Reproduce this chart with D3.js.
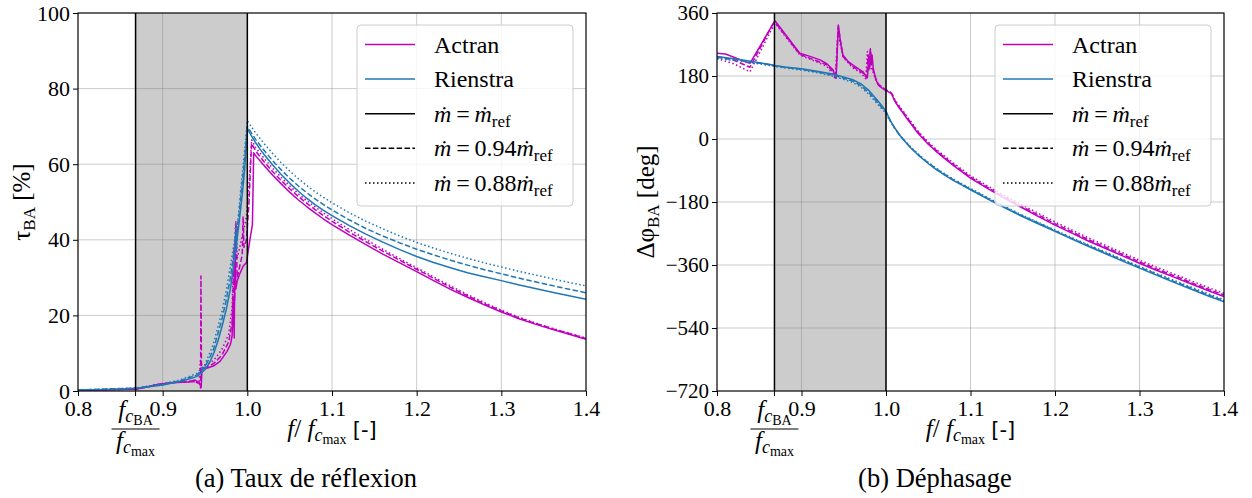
<!DOCTYPE html>
<html><head><meta charset="utf-8">
<script src="https://cdnjs.cloudflare.com/ajax/libs/d3/7.8.5/d3.min.js"></script>
<style>
body{margin:0;background:#fff}
svg text{font-family:"Liberation Serif","Times New Roman",serif;fill:#000}
</style>
</head><body>
<svg id="c" width="1252" height="498"></svg>
<script>
// ---------- axes / labels ----------
const xTicks = [0.8, 0.9, 1.0, 1.1, 1.2, 1.3, 1.4];
const xTickLabels = ["0.8", "0.9", "1.0", "1.1", "1.2", "1.3", "1.4"];
const fcRatio = 0.868;           // f_cBA / f_cmax
const fcMaxRatio = 1.0;
const tauTicks = [0, 20, 40, 60, 80, 100];
const tauTickLabels = ["0", "20", "40", "60", "80", "100"];
const phaseTicks = [-720, -540, -360, -180, 0, 180, 360];
const phaseTickLabels = ["\u2212720", "\u2212540", "\u2212360", "\u2212180", "0", "180", "360"];
const seriesNames = ["Actran", "Rienstra"];
const flowLabels = ["", "0.94", "0.88"];
const captions = ["(a) Taux de r\u00e9flexion", "(b) D\u00e9phasage"];

// ---------- data: reflection rate tau_BA [%] ----------
const tauActranRef = [[0.80,0.2],[0.84,0.3],[0.868,0.45],[0.88,1.0],[0.895,1.8],[0.91,2.2],[0.93,2.4],[0.938,2.9],[0.943,2.3],[0.9455,1.0],[0.9465,6.2],[0.95,5.9],[0.96,6.6],[0.968,7.9],[0.976,10.5],[0.98,12.3],[0.982,14.5],[0.9835,25],[0.9845,14],[0.9855,40],[0.9865,27],[0.988,29],[0.991,31],[0.995,33],[0.999,34],[1.003,40],[1.006,44],[1.0075,63],[1.01,62.2],[1.02,59.6],[1.03,57.1],[1.04,54.8],[1.05,52.6],[1.06,50.6],[1.07,48.8],[1.08,47.1],[1.09,45.5],[1.1,44.0],[1.12,41.3],[1.14,38.7],[1.16,36.2],[1.18,33.9],[1.2,31.6],[1.22,29.2],[1.24,26.9],[1.26,24.8],[1.28,22.8],[1.3,20.9],[1.32,19.2],[1.34,17.7],[1.36,16.3],[1.38,15.0],[1.4,13.7]];
const tauActran094 = [[0.80,0.2],[0.868,0.5],[0.89,1.5],[0.91,2.2],[0.935,2.5],[0.943,2.2],[0.9448,0.8],[0.9452,30.4],[0.9458,6.5],[0.95,6.2],[0.96,7.2],[0.97,9.5],[0.978,13],[0.982,18],[0.984,33],[0.985,24],[0.9865,44],[0.988,30],[0.991,33],[0.994,36],[0.995,46],[0.996,38],[0.999,40],[1.002,50],[1.005,65.5],[1.01,63.4],[1.02,60.6],[1.03,58.0],[1.04,55.7],[1.05,53.5],[1.06,51.5],[1.07,49.7],[1.08,48.0],[1.09,46.4],[1.1,44.9],[1.12,42.1],[1.14,39.5],[1.16,37.0],[1.18,34.6],[1.2,32.2],[1.22,29.8],[1.24,27.4],[1.26,25.2],[1.28,23.1],[1.3,21.2],[1.32,19.4],[1.34,17.9],[1.36,16.5],[1.38,15.2],[1.4,13.9]];
const tauActran088 = [[0.80,0.2],[0.868,0.5],[0.89,1.6],[0.91,2.3],[0.935,2.6],[0.943,2.0],[0.9445,8],[0.946,7],[0.95,6.8],[0.96,8],[0.97,11],[0.978,15],[0.982,22],[0.984,38],[0.985,28],[0.9865,45],[0.988,35],[0.991,38],[0.995,42],[0.999,46],[1.003,58],[1.005,66.5],[1.01,64.3],[1.02,61.5],[1.03,58.9],[1.04,56.5],[1.05,54.3],[1.06,52.2],[1.07,50.4],[1.08,48.7],[1.09,47.1],[1.1,45.6],[1.12,42.8],[1.14,40.1],[1.16,37.5],[1.18,35.0],[1.2,32.6],[1.22,30.2],[1.24,27.8],[1.26,25.5],[1.28,23.4],[1.3,21.4],[1.32,19.6],[1.34,18.0],[1.36,16.6],[1.38,15.3],[1.4,14.0]];
const tauRienstraRef = [[0.80,0.25],[0.82,0.35],[0.84,0.45],[0.86,0.6],[0.868,0.75],[0.88,1.0],[0.9,1.6],[0.92,2.5],[0.93,3.1],[0.94,3.8],[0.945,4.6],[0.95,5.7],[0.955,7.3],[0.96,9.8],[0.965,13],[0.97,17],[0.975,21.5],[0.98,27],[0.985,35],[0.99,44],[0.994,52],[0.997,59],[1.0,69.5],[1.005,67.4],[1.01,65.6],[1.015,64.0],[1.02,62.5],[1.03,59.8],[1.04,57.3],[1.05,55.0],[1.06,52.9],[1.07,51.0],[1.08,49.3],[1.09,47.8],[1.1,46.4],[1.12,43.8],[1.14,41.5],[1.16,39.4],[1.18,37.4],[1.2,35.6],[1.22,34.0],[1.24,32.6],[1.26,31.3],[1.28,30.2],[1.3,29.2],[1.32,28.1],[1.34,27.1],[1.36,26.1],[1.38,25.2],[1.4,24.3]];
const tauRienstra094 = [[0.80,0.25],[0.868,0.75],[0.9,1.7],[0.92,2.7],[0.94,4.2],[0.95,6.3],[0.96,11],[0.97,19],[0.975,24],[0.98,30],[0.985,38],[0.986,42],[0.987,37],[0.989,45],[0.99,46],[0.993,53],[0.997,62],[1.0,70],[1.005,68.2],[1.01,66.5],[1.015,65.0],[1.02,63.6],[1.03,60.9],[1.04,58.5],[1.05,56.3],[1.06,54.3],[1.07,52.5],[1.08,50.8],[1.09,49.3],[1.1,47.9],[1.12,45.3],[1.14,43.0],[1.16,41.0],[1.18,39.2],[1.2,37.5],[1.22,36.0],[1.24,34.6],[1.26,33.3],[1.28,32.1],[1.3,31.0],[1.32,29.9],[1.34,28.9],[1.36,27.9],[1.38,26.9],[1.4,26.0]];
const tauRienstra088 = [[0.80,0.25],[0.868,0.8],[0.9,1.8],[0.92,2.9],[0.94,4.6],[0.95,7],[0.96,12.5],[0.97,21],[0.975,26.5],[0.98,33],[0.985,40],[0.986,44],[0.987,40],[0.988,43],[0.99,48],[0.993,55],[0.997,64],[1.0,71.5],[1.005,69.8],[1.01,68.2],[1.015,66.8],[1.02,65.4],[1.03,62.8],[1.04,60.4],[1.05,58.2],[1.06,56.2],[1.07,54.4],[1.08,52.7],[1.09,51.2],[1.1,49.8],[1.12,47.2],[1.14,44.9],[1.16,42.9],[1.18,41.0],[1.2,39.3],[1.22,37.8],[1.24,36.4],[1.26,35.1],[1.28,33.9],[1.3,32.8],[1.32,31.7],[1.34,30.7],[1.36,29.7],[1.38,28.7],[1.4,27.8]];

// ---------- data: phase shift Delta phi_BA [deg] ----------
const phiActranRef = [[0.80,245],[0.81,243],[0.839,216],[0.8686,338],[0.898,245],[0.91,236],[0.922,226],[0.93,215],[0.9376,197],[0.94,176],[0.941,174],[0.9436,326],[0.946,280],[0.949,240],[0.955,222],[0.961,211],[0.967,201],[0.973,192],[0.976,180],[0.978,175],[0.9795,230],[0.9805,205],[0.9815,254],[0.9825,215],[0.9835,240],[0.985,200],[0.988,170],[0.991,154],[0.995,146],[0.999,140],[1.002,136],[1.005,132],[1.007,128],[1.009,115],[1.012,102],[1.016,88],[1.02,75],[1.025,58],[1.03,42],[1.036,22],[1.04,11],[1.045,-2],[1.05,-15],[1.056,-28],[1.06,-37],[1.07,-57],[1.08,-76],[1.09,-94],[1.1,-112],[1.12,-141],[1.14,-169],[1.16,-195],[1.18,-221],[1.2,-246],[1.22,-269],[1.24,-292],[1.26,-313],[1.28,-334],[1.3,-355],[1.32,-375],[1.34,-394],[1.36,-413],[1.38,-432],[1.4,-450]];
const phiActran094 = [[0.80,236],[0.82,225],[0.839,205],[0.866,328],[0.87,330],[0.898,242],[0.93,212],[0.938,190],[0.9405,172],[0.9435,322],[0.9455,290],[0.949,236],[0.96,208],[0.973,188],[0.977,175],[0.979,240],[0.9805,200],[0.9815,258],[0.983,210],[0.985,195],[0.988,172],[0.991,157],[0.999,141],[1.002,137],[1.005,133],[1.007,129],[1.009,117],[1.012,104],[1.016,90],[1.02,78],[1.025,61],[1.03,45],[1.036,25],[1.04,14],[1.045,1],[1.05,-12],[1.056,-25],[1.06,-34],[1.07,-54],[1.08,-73],[1.09,-91],[1.1,-109],[1.12,-138],[1.14,-166],[1.16,-192],[1.18,-217],[1.2,-242],[1.22,-265],[1.24,-288],[1.26,-309],[1.28,-330],[1.3,-351],[1.32,-371],[1.34,-390],[1.36,-409],[1.38,-428],[1.4,-446]];
const phiActran088 = [[0.80,230],[0.82,215],[0.839,192],[0.865,315],[0.869,330],[0.898,240],[0.93,208],[0.937,185],[0.94,172],[0.9432,315],[0.946,270],[0.95,232],[0.96,205],[0.972,185],[0.976,172],[0.978,250],[0.9795,195],[0.981,245],[0.9825,200],[0.985,190],[0.988,168],[0.991,155],[0.999,142],[1.002,138],[1.005,134],[1.007,131],[1.009,119],[1.012,107],[1.016,93],[1.02,81],[1.025,64],[1.03,48],[1.036,28],[1.04,17],[1.045,4],[1.05,-9],[1.056,-22],[1.06,-31],[1.07,-50],[1.08,-69],[1.09,-87],[1.1,-105],[1.12,-134],[1.14,-161],[1.16,-187],[1.18,-212],[1.2,-237],[1.22,-260],[1.24,-283],[1.26,-304],[1.28,-325],[1.3,-346],[1.32,-366],[1.34,-385],[1.36,-404],[1.38,-423],[1.4,-441]];
const phiRienstraRef = [[0.80,236],[0.82,229],[0.84,222],[0.86,214],[0.8686,210],[0.88,206],[0.9,201],[0.92,193],[0.94,184],[0.96,170],[0.97,158],[0.98,138],[0.99,110],[0.995,95],[0.999,83],[1.0,80],[1.003,63],[1.006,49],[1.01,33],[1.015,15],[1.02,0],[1.025,-14],[1.03,-27],[1.04,-50],[1.05,-70],[1.06,-88],[1.07,-104],[1.08,-119],[1.09,-132],[1.1,-145],[1.12,-171],[1.14,-196],[1.16,-220],[1.18,-242],[1.2,-264],[1.22,-286],[1.24,-307],[1.26,-328],[1.28,-349],[1.3,-369],[1.32,-389],[1.34,-409],[1.36,-428],[1.38,-447],[1.4,-465]];
const phiRienstra094 = [[0.80,233],[0.82,227],[0.84,220],[0.86,213],[0.8686,209],[0.88,205],[0.9,199],[0.92,191],[0.94,181],[0.96,166],[0.97,153],[0.98,132],[0.99,104],[0.995,90],[0.999,79],[1.0,77],[1.003,61],[1.006,48],[1.01,32],[1.015,15],[1.02,0],[1.025,-13],[1.03,-26],[1.04,-49],[1.05,-68],[1.06,-86],[1.07,-102],[1.08,-117],[1.09,-130],[1.1,-143],[1.12,-169],[1.14,-194],[1.16,-218],[1.18,-240],[1.2,-262],[1.22,-284],[1.24,-305],[1.26,-326],[1.28,-346],[1.3,-366],[1.32,-386],[1.34,-406],[1.36,-425],[1.38,-444],[1.4,-462]];
const phiRienstra088 = [[0.80,230],[0.82,225],[0.84,218],[0.86,211],[0.8686,207],[0.88,203],[0.9,197],[0.92,189],[0.94,178],[0.96,162],[0.97,149],[0.98,127],[0.99,100],[0.995,86],[0.999,76],[1.0,74],[1.003,59],[1.006,47],[1.01,31],[1.015,14],[1.02,0],[1.025,-12],[1.03,-25],[1.04,-47],[1.05,-67],[1.06,-84],[1.07,-100],[1.08,-115],[1.09,-128],[1.1,-141],[1.12,-167],[1.14,-192],[1.16,-216],[1.18,-238],[1.2,-260],[1.22,-282],[1.24,-303],[1.26,-323],[1.28,-344],[1.3,-364],[1.32,-384],[1.34,-403],[1.36,-422],[1.38,-441],[1.4,-459]];

// ---------- styles ----------
const colActran = "#bf00bf", colRienstra = "#1f77b4";
const dashes = [null, "5.5,2.4", "1.5,2.5"];

const svg = d3.select("#c");

function fracLabel(g, x, yBase) {
  const n = g.append("text").attr("x", x).attr("y", yBase).attr("text-anchor", "middle").style("font-size", "25px");
  n.append("tspan").style("font-style", "italic").text("f");
  n.append("tspan").style("font-style", "italic").style("font-size", "18px").attr("dy", 4).text("c");
  n.append("tspan").style("font-size", "14px").attr("dy", 3).text("BA");
  g.append("line").attr("x1", x - 24).attr("x2", x + 24).attr("y1", yBase + 11).attr("y2", yBase + 11).attr("stroke", "#000").attr("stroke-width", 1);
  const d = g.append("text").attr("x", x).attr("y", yBase + 31).attr("text-anchor", "middle").style("font-size", "25px");
  d.append("tspan").style("font-style", "italic").text("f");
  d.append("tspan").style("font-style", "italic").style("font-size", "18px").attr("dy", 4).text("c");
  d.append("tspan").style("font-size", "14px").attr("dy", 3).text("max");
}

function panel(opt) {
  const {x0, x1, y0, y1, yDomain, yTicks, yTickLabels, series, legendX, caption, capX, ylab, ylabX, yTickFont, clipId} = opt;
  const g = svg.append("g");
  const x = d3.scaleLinear().domain([0.8, 1.4]).range([x0, x1]);
  const y = d3.scaleLinear().domain(yDomain).range([y1, y0]);

  g.append("clipPath").attr("id", clipId).append("rect").attr("x", x0).attr("y", y0).attr("width", x1 - x0).attr("height", y1 - y0);

  g.append("rect").attr("x", x(fcRatio)).attr("y", y0).attr("width", x(fcMaxRatio) - x(fcRatio)).attr("height", y1 - y0).attr("fill", "#cccccc");

  g.append("g").selectAll("line").data(xTicks).join("line")
    .attr("x1", d => x(d)).attr("x2", d => x(d)).attr("y1", y0).attr("y2", y1)
    .attr("stroke", "#808080").attr("stroke-opacity", 0.4).attr("stroke-width", 1);
  g.append("g").selectAll("line").data(yTicks).join("line")
    .attr("x1", x0).attr("x2", x1).attr("y1", d => y(d)).attr("y2", d => y(d))
    .attr("stroke", "#808080").attr("stroke-opacity", 0.4).attr("stroke-width", 1);

  const line = d3.line().x(d => x(d[0])).y(d => y(d[1]));
  const cg = g.append("g").attr("clip-path", `url(#${clipId})`);
  series.forEach(s => {
    cg.append("path").attr("d", line(s.data)).attr("fill", "none")
      .attr("stroke", s.color).attr("stroke-width", 1.5)
      .attr("stroke-dasharray", s.dash).attr("stroke-linejoin", "round");
  });

  [fcRatio, fcMaxRatio].forEach(v => {
    g.append("line").attr("x1", x(v)).attr("x2", x(v)).attr("y1", y0).attr("y2", y1).attr("stroke", "#000").attr("stroke-width", 1.5);
  });

  const xa = g.append("g").attr("transform", `translate(0,${y1})`)
    .call(d3.axisBottom(x).tickValues(xTicks).tickFormat((d, i) => xTickLabels[i]).tickSize(5).tickSizeOuter(0).tickPadding(4));
  xa.select(".domain").remove();
  xa.selectAll("text").style("font-size", "22px").style("font-family", "Liberation Serif");
  xa.selectAll("line").attr("stroke", "#000");
  g.append("line").attr("x1", x(fcRatio)).attr("x2", x(fcRatio)).attr("y1", y1).attr("y2", y1 + 5).attr("stroke", "#000");
  fracLabel(g, x(fcRatio), y1 + 27);

  const ya = g.append("g").attr("transform", `translate(${x0},0)`)
    .call(d3.axisLeft(y).tickValues(yTicks).tickFormat((d, i) => yTickLabels[i]).tickSize(5).tickSizeOuter(0).tickPadding(3));
  ya.select(".domain").remove();
  ya.selectAll("text").style("font-size", yTickFont).style("font-family", "Liberation Serif");
  ya.selectAll("line").attr("stroke", "#000");

  g.append("rect").attr("x", x0).attr("y", y0).attr("width", x1 - x0).attr("height", y1 - y0)
    .attr("fill", "none").attr("stroke", "#000").attr("stroke-width", 1.1);

  const xl = g.append("text").attr("x", (x0 + x1) / 2).attr("y", y1 + 46).attr("text-anchor", "middle").style("font-size", "25px");
  xl.append("tspan").style("font-style", "italic").text("f");
  xl.append("tspan").text("/ ");
  xl.append("tspan").style("font-style", "italic").text("f");
  xl.append("tspan").style("font-style", "italic").style("font-size", "18px").attr("dy", 4).text("c");
  xl.append("tspan").style("font-size", "14px").attr("dy", 3).text("max");
  xl.append("tspan").attr("dy", -7).text(" ");
  xl.append("tspan").style("font-family", "DejaVu Sans").style("font-size", "21px").text("[-]");

  const yl = g.append("text").attr("transform", `translate(${ylabX},${(y0 + y1) / 2}) rotate(-90)`)
    .attr("text-anchor", "middle").style("font-size", "25px");
  yl.append("tspan").text(ylab[0]);
  yl.append("tspan").style("font-size", "17px").attr("dy", 5).text("BA");
  yl.append("tspan").attr("dy", -5).text(ylab[1]);

  g.append("text").attr("x", capX).attr("y", 487).attr("text-anchor", "middle").style("font-size", "26.5px").text(caption);

  const lg = g.append("g");
  lg.append("rect").attr("x", legendX).attr("y", 25).attr("width", 216).attr("height", 181).attr("rx", 4)
    .attr("fill", "#fff").attr("fill-opacity", 0.8).attr("stroke", "#cccccc").attr("stroke-width", 1);
  const entries = [
    {color: colActran, dash: null, label: seriesNames[0]},
    {color: colRienstra, dash: null, label: seriesNames[1]},
    {color: "#000", dash: dashes[0], flow: flowLabels[0]},
    {color: "#000", dash: dashes[1], flow: flowLabels[1]},
    {color: "#000", dash: dashes[2], flow: flowLabels[2]}
  ];
  entries.forEach((e, i) => {
    const yy = 44.5 + i * 34.6;
    lg.append("line").attr("x1", legendX + 8).attr("x2", legendX + 58).attr("y1", yy).attr("y2", yy)
      .attr("stroke", e.color).attr("stroke-width", 1.5).attr("stroke-dasharray", e.dash);
    const t = lg.append("text").attr("x", legendX + 77).attr("y", yy + 8).style("font-size", "24px");
    if (e.label !== undefined) {
      t.text(e.label);
    } else {
      t.append("tspan").style("font-style", "italic").text("\u1e41");
      t.append("tspan").text("\u2009=\u2009" + e.flow);
      t.append("tspan").style("font-style", "italic").text("\u1e41");
      t.append("tspan").style("font-size", "17px").attr("dy", 5).text("ref");
    }
  });
}

panel({
  x0: 78, x1: 586, y0: 13, y1: 391, yDomain: [0, 100], yTicks: tauTicks, yTickLabels: tauTickLabels,
  series: [
    {data: tauActranRef, color: colActran, dash: dashes[0]},
    {data: tauActran094, color: colActran, dash: dashes[1]},
    {data: tauActran088, color: colActran, dash: dashes[2]},
    {data: tauRienstraRef, color: colRienstra, dash: dashes[0]},
    {data: tauRienstra094, color: colRienstra, dash: dashes[1]},
    {data: tauRienstra088, color: colRienstra, dash: dashes[2]}
  ],
  legendX: 357, caption: captions[0], capX: 306, ylab: ["\u03c4", " [%]"], ylabX: 30, yTickFont: "22px", clipId: "clipA"
});
panel({
  x0: 717, x1: 1224, y0: 13, y1: 391, yDomain: [-720, 360], yTicks: phaseTicks, yTickLabels: phaseTickLabels,
  series: [
    {data: phiActranRef, color: colActran, dash: dashes[0]},
    {data: phiActran094, color: colActran, dash: dashes[1]},
    {data: phiActran088, color: colActran, dash: dashes[2]},
    {data: phiRienstraRef, color: colRienstra, dash: dashes[0]},
    {data: phiRienstra094, color: colRienstra, dash: dashes[1]},
    {data: phiRienstra088, color: colRienstra, dash: dashes[2]}
  ],
  legendX: 995, caption: captions[1], capX: 935, ylab: ["\u0394\u03c6", " [deg]"], ylabX: 654, yTickFont: "21px", clipId: "clipB"
});
</script>
</body></html>
